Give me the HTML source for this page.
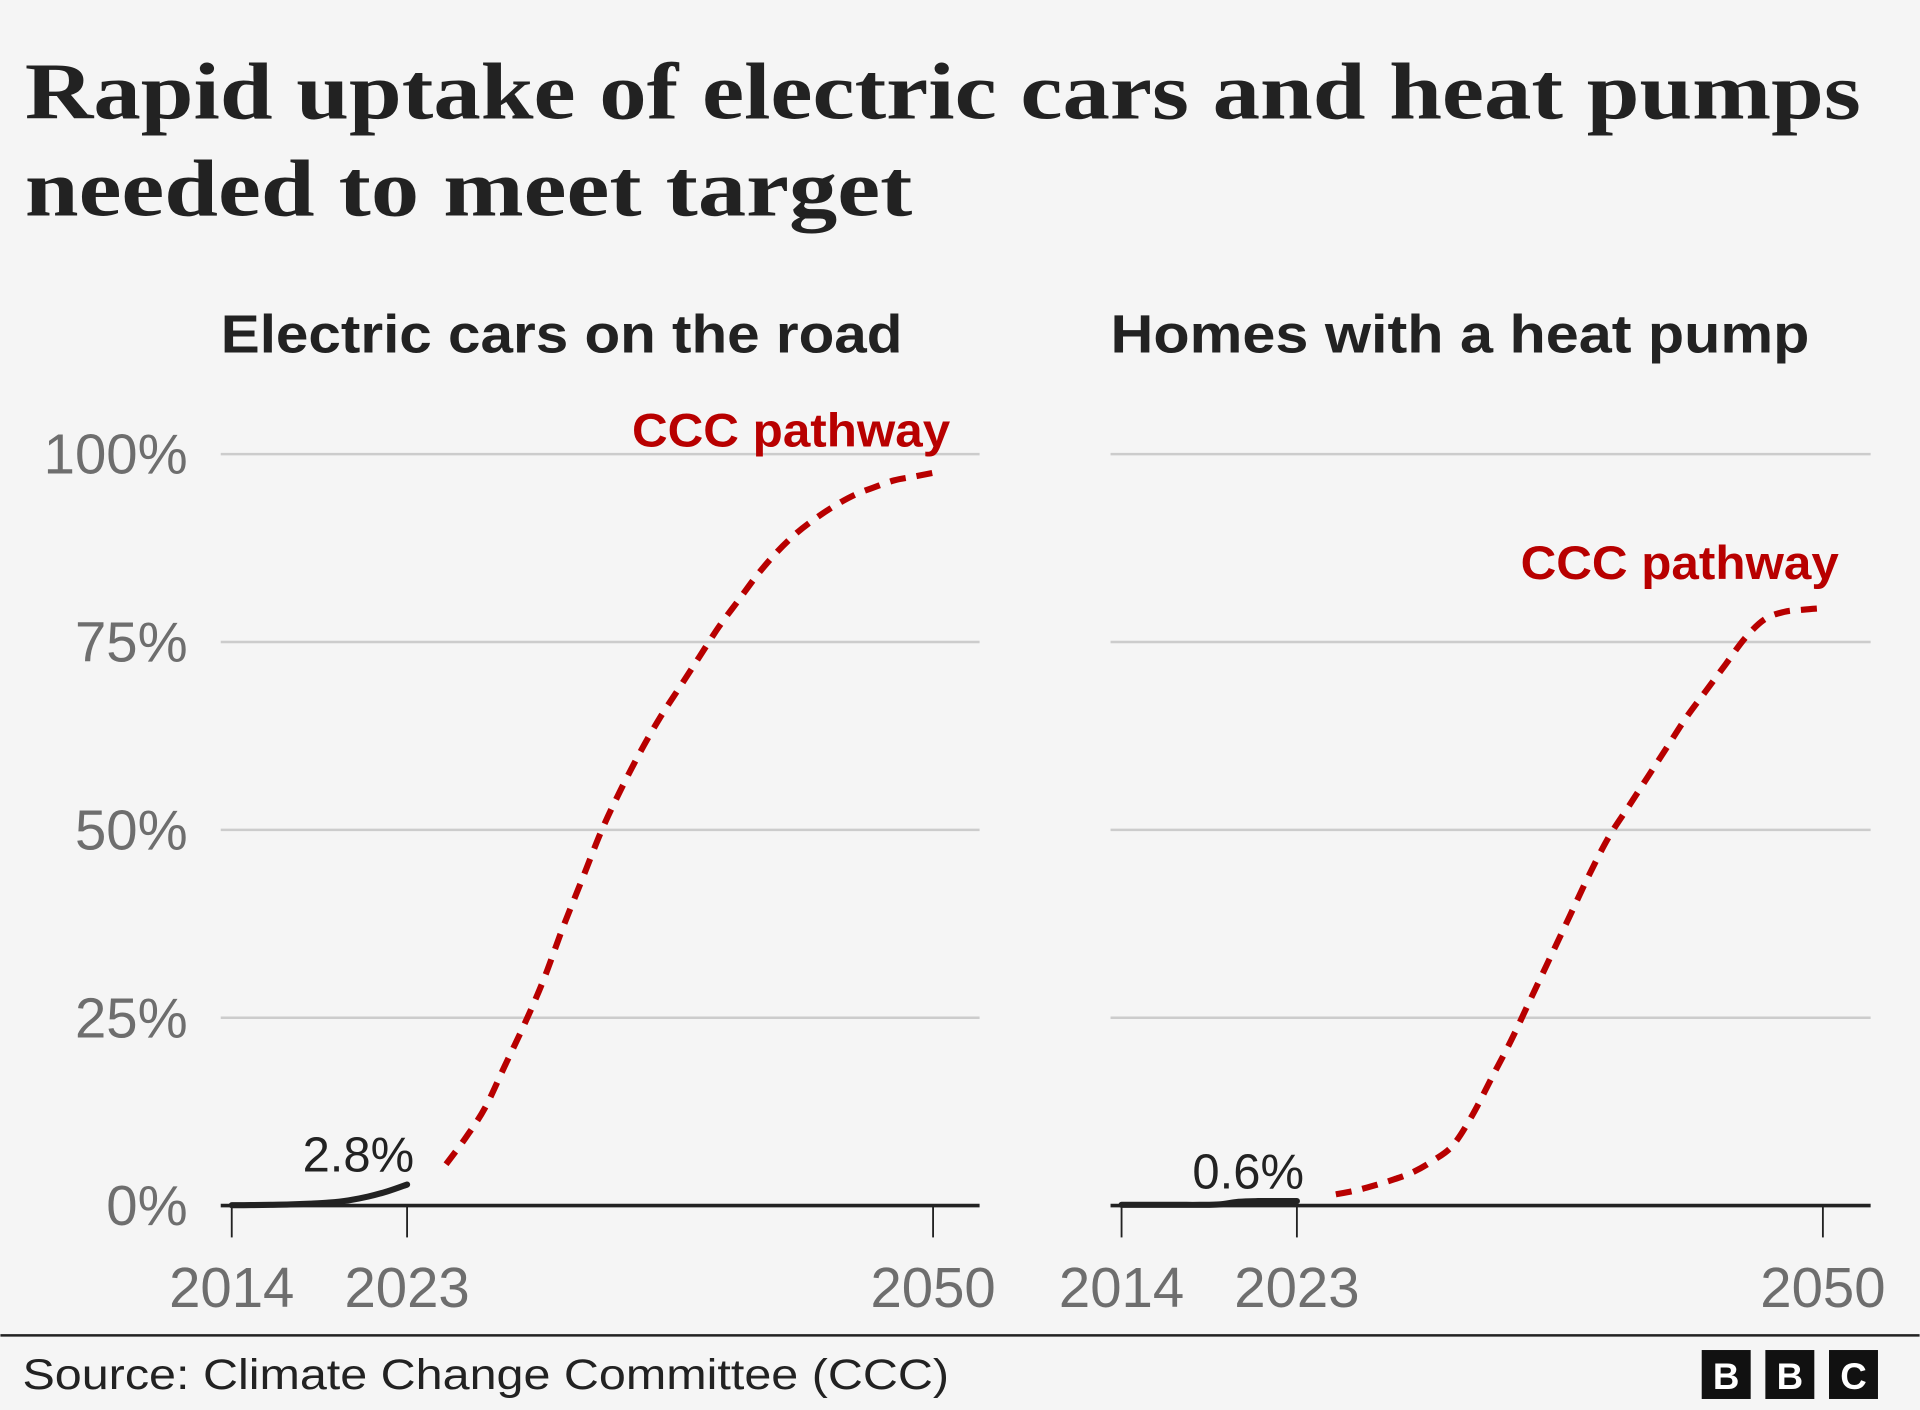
<!DOCTYPE html>
<html><head><meta charset="utf-8"><style>
html,body{margin:0;padding:0;background:#f5f5f5;}
svg{display:block;}
text{font-family:"Liberation Sans",sans-serif;}
</style></head><body>
<svg id="chart" width="1920" height="1410" viewBox="0 0 1568 1152" xmlns="http://www.w3.org/2000/svg">
<rect x="0" y="0" width="1568" height="1152" fill="#f5f5f5"/>
<text x="20" y="97" style="font-family:'Liberation Serif',serif" font-size="66" font-weight="bold" fill="#222" textLength="1500" lengthAdjust="spacingAndGlyphs">Rapid uptake of electric cars and heat pumps</text>
<text x="20" y="176" style="font-family:'Liberation Serif',serif" font-size="66" font-weight="bold" fill="#222" textLength="725" lengthAdjust="spacingAndGlyphs">needed to meet target</text>
<text x="180" y="288" font-size="44" font-weight="bold" fill="#222" textLength="557" lengthAdjust="spacingAndGlyphs">Electric cars on the road</text>
<text x="907" y="288" font-size="44" font-weight="bold" fill="#222" textLength="571" lengthAdjust="spacingAndGlyphs">Homes with a heat pump</text>
<g id="grid"></g>
<g id="marks"></g>
<line x1="0" y1="1091" x2="1568" y2="1091" stroke="#222" stroke-width="2"/>
<text x="18" y="1135" font-size="35" fill="#222" textLength="757" lengthAdjust="spacingAndGlyphs">Source: Climate Change Committee (CCC)</text>
<g>
<rect x="1390" y="1103" width="40" height="40" fill="#111"/><text x="1410" y="1135" font-size="30" font-weight="bold" fill="#fff" text-anchor="middle">B</text>
<rect x="1442" y="1103" width="40" height="40" fill="#111"/><text x="1462" y="1135" font-size="30" font-weight="bold" fill="#fff" text-anchor="middle">B</text>
<rect x="1494" y="1103" width="40" height="40" fill="#111"/><text x="1514" y="1135" font-size="30" font-weight="bold" fill="#fff" text-anchor="middle">C</text>
</g>
</svg>
<script>
const yTicks=[0,25,50,75,100];
const yTickLabels=["0%","25%","50%","75%","100%"];
const xTicks=[2014,2023,2050];
const actualYears=[2014,2015,2016,2017,2018,2019,2020,2021,2022,2023];
const evActual=[0.05,0.07,0.1,0.15,0.25,0.4,0.7,1.2,1.9,2.8];
const hpActual=[0.1,0.1,0.1,0.1,0.1,0.15,0.5,0.6,0.6,0.6];
const pathYears=[2025,2026,2027,2028,2029,2030,2031,2032,2033,2034,2035,2036,2037,2038,2039,2040,2041,2042,2043,2044,2045,2046,2047,2048,2049,2050];
const evPath=[5.5,9,13,18.5,24,30,37,43.5,50,55.5,60.5,65,69,73,77,80.5,84,87,89.5,91.5,93.2,94.6,95.6,96.5,97,97.5];
const hpPath=[1.5,2,2.7,3.5,4.5,6,8,12,17,22,27.5,33,38.5,44,49,53,57,61,65,68.5,72,75.5,78,79,79.3,79.5];
const NS="http://www.w3.org/2000/svg";
const RED="#b80000";
function mk(tag,attrs,parent,txt){const e=document.createElementNS(NS,tag);for(const k in attrs)e.setAttribute(k,attrs[k]);if(txt!==undefined)e.textContent=txt;parent.appendChild(e);return e;}
function yScale(v){return 985-v*6.14;}
function smooth(pts){let d="M"+pts[0][0]+","+pts[0][1];for(let i=0;i<pts.length-1;i++){const p0=pts[i-1]||pts[i],p1=pts[i],p2=pts[i+1],p3=pts[i+2]||p2;
d+=" C"+(p1[0]+(p2[0]-p0[0])/6)+","+(p1[1]+(p2[1]-p0[1])/6)+" "+(p2[0]-(p3[0]-p1[0])/6)+","+(p2[1]-(p3[1]-p1[1])/6)+" "+p2[0]+","+p2[1];}return d;}
const grid=document.getElementById('grid'),marks=document.getElementById('marks');
const panels=[
 {name:'ev',x0:180,x1:800,x2014:189,actual:evActual,path:evPath,label:"2.8%",labelY:957,pathLabelX:776,pathLabelY:365,labels:true},
 {name:'heat-pump',x0:907,x1:1528,x2014:916,actual:hpActual,path:hpPath,label:"0.6%",labelY:971,pathLabelX:1502,pathLabelY:473,labels:false}
];
panels.forEach(p=>{
 const xs=y=>p.x2014+(y-2014)*(573/36);
 yTicks.forEach((t,i)=>{
  if(t>0){const l=mk('line',{x1:p.x0,x2:p.x1,y1:yScale(t),y2:yScale(t),stroke:'#cccccc','stroke-width':2},grid);
  
  }
  if(p.labels){const tx=mk('text',{x:153,y:yScale(t)+16,'font-size':46,fill:'#6e6e6e','text-anchor':'end'},grid,yTickLabels[i]);
  
  }
 });
 const ax=mk('line',{x1:p.x0,x2:p.x1,y1:985,y2:985,stroke:'#222','stroke-width':3},grid);
 
 
 xTicks.forEach(t=>{
  const tk=mk('line',{x1:xs(t),x2:xs(t),y1:985,y2:1011,stroke:'#222','stroke-width':1.5},grid);
  
  
  const tl=mk('text',{x:xs(t),y:1068,'font-size':46,fill:'#6e6e6e','text-anchor':'middle'},grid,String(t));
  
  
 });
 const a=mk('path',{d:smooth(actualYears.map((y,i)=>[xs(y),yScale(p.actual[i])])),fill:'none',stroke:'#222','stroke-width':5,'stroke-linecap':'round'},marks);
 
 
 const pl=mk('path',{d:smooth(pathYears.map((y,i)=>[xs(y),yScale(p.path[i])])),fill:'none',stroke:RED,'stroke-width':5,'stroke-dasharray':'13 9'},marks);
 
 
 const lb=mk('text',{x:xs(2020.5),y:p.labelY,'font-size':40,fill:'#222','text-anchor':'middle'},marks,p.label);
 
 
 const cl=mk('text',{x:p.pathLabelX,y:p.pathLabelY,'font-size':39,'font-weight':'bold',fill:RED,'text-anchor':'end',textLength:260,lengthAdjust:'spacingAndGlyphs'},marks,'CCC pathway');
 
 
});
</script>
</body></html>
